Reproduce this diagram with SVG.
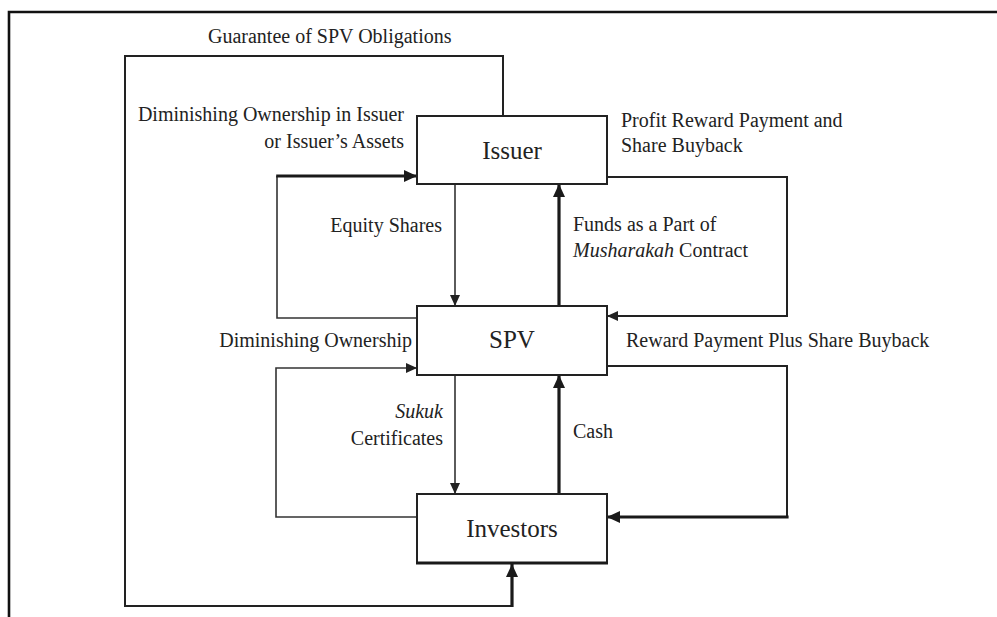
<svg xmlns="http://www.w3.org/2000/svg" width="997" height="617" viewBox="0 0 997 617">
<defs>
<style>
.lbl{font-family:"Liberation Serif","Times New Roman",serif;font-size:20px;fill:#222}
.node text{font-family:"Liberation Serif","Times New Roman",serif;font-size:25px;fill:#222;text-anchor:middle}
.node rect{fill:#fff;stroke:#222;stroke-width:2}
.c{fill:none;stroke:#222;stroke-width:2}
.thin{fill:none;stroke:#333;stroke-width:1.6}
.thick{fill:none;stroke:#1a1a1a;stroke-width:3.2}
</style>
<marker id="ah" markerUnits="userSpaceOnUse" markerWidth="14" markerHeight="12" refX="13" refY="6" orient="auto">
<path d="M0,0 L13,6 L0,12 Z" fill="#1a1a1a"/>
</marker>
<marker id="ahs" markerUnits="userSpaceOnUse" markerWidth="12" markerHeight="10" refX="11" refY="5" orient="auto">
<path d="M0,0 L11,5 L0,10 Z" fill="#222"/>
</marker>
</defs>
<rect width="997" height="617" fill="#fff"/>
<path d="M9,617 V12 H997" fill="none" stroke="#111" stroke-width="2.6"/>

<g id="connectors">
<path class="thin" d="M455,184 V306" marker-end="url(#ahs)"/>
<path class="thick" d="M559,306 V184" marker-end="url(#ah)"/>
<path class="thin" d="M417,318 H277 V176"/>
<path class="thick" d="M276.2,176 H417" marker-end="url(#ah)"/>
<path class="c" d="M607,177 H787 V316 H607" marker-end="url(#ahs)"/>
<path class="thin" d="M417,517 H276 V368 H417" marker-end="url(#ahs)"/>
<path class="c" d="M607,366 H787 V517"/>
<path class="thick" d="M788.6,517 H607" marker-end="url(#ah)"/>
<path class="thin" d="M455,375 V494" marker-end="url(#ahs)"/>
<path class="thick" d="M559,494 V375" marker-end="url(#ah)"/>
<path class="c" d="M503,116 V56 H125 V606 H512"/>
<path class="thick" d="M512,607 V564" marker-end="url(#ah)"/>
</g>

<g id="issuer" class="node">
<rect x="417" y="116" width="190" height="68"/>
<text x="512" y="159">Issuer</text>
</g>
<g id="spv" class="node">
<rect x="417" y="306" width="190" height="69"/>
<text x="512" y="348">SPV</text>
</g>
<g id="investors" class="node">
<rect x="417" y="494" width="190" height="69"/>
<line x1="416" y1="563" x2="608" y2="563" stroke="#1a1a1a" stroke-width="3"/>
<text x="512" y="537">Investors</text>
</g>

<g id="labels">
<text class="lbl" x="208" y="43">Guarantee of SPV Obligations</text>
<text class="lbl" x="404" y="121" text-anchor="end">Diminishing Ownership in Issuer</text>
<text class="lbl" x="404" y="148" text-anchor="end">or Issuer’s Assets</text>
<text class="lbl" x="621" y="127">Profit Reward Payment and</text>
<text class="lbl" x="621" y="152">Share Buyback</text>
<text class="lbl" x="442" y="232" text-anchor="end">Equity Shares</text>
<text class="lbl" x="573" y="231">Funds as a Part of</text>
<text class="lbl" x="573" y="257"><tspan font-style="italic">Musharakah</tspan> Contract</text>
<text class="lbl" x="412" y="347" text-anchor="end">Diminishing Ownership</text>
<text class="lbl" x="626" y="347">Reward Payment Plus Share Buyback</text>
<text class="lbl" x="443" y="418" text-anchor="end" font-style="italic">Sukuk</text>
<text class="lbl" x="443" y="445" text-anchor="end">Certificates</text>
<text class="lbl" x="573" y="438">Cash</text>
</g>
</svg>
